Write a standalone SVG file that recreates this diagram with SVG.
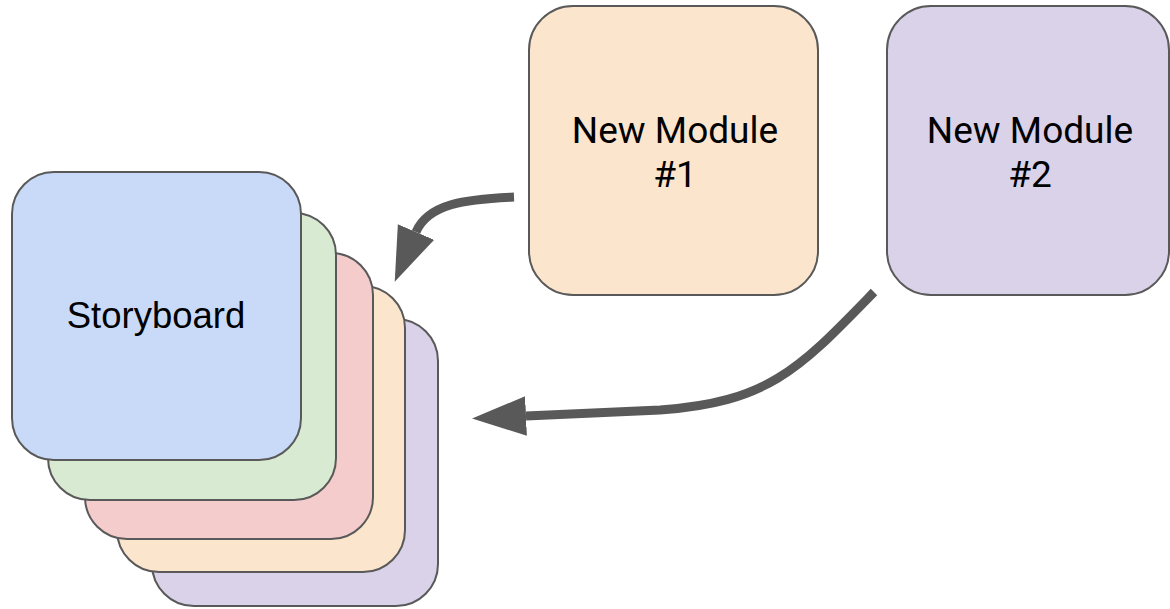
<svg xmlns="http://www.w3.org/2000/svg" width="1170" height="609" viewBox="0 0 1170 609">
<style>
.card{stroke:#595959;stroke-width:2}
.lbl{font-family:"Liberation Sans",Arial,sans-serif;font-size:36.5px;fill:#000;text-anchor:middle}
.mlbl{font-family:Roboto,"Noto Sans",sans-serif;font-size:37px;fill:#000;text-anchor:middle}
.conn{fill:none;stroke:#595959;stroke-width:9;stroke-linecap:butt}
</style>
<defs>
<marker id="ah" markerUnits="userSpaceOnUse" markerWidth="54" markerHeight="40" viewBox="0 0 52 38" refX="0" refY="19" orient="auto">
<path d="M0,0 L52,19 L0,38 z" fill="#595959"/>
</marker>
</defs>
<rect width="1170" height="609" fill="#fff"/>
<g id="storyboard-stack">
<g id="card5"><rect class="card" x="152" y="319" width="286" height="287" rx="42" fill="#d9d2e9"/></g>
<g id="card4"><rect class="card" x="117" y="286" width="288" height="286" rx="42" fill="#fce5cd"/></g>
<g id="card3"><rect class="card" x="85" y="253" width="288" height="286" rx="42" fill="#f4cccc"/></g>
<g id="card2"><rect class="card" x="48" y="213" width="288" height="287" rx="42" fill="#d9ead3"/></g>
<g id="storyboard"><rect class="card" x="12" y="172" width="289" height="288" rx="42" fill="#c9daf8"/>
<text class="lbl" x="156" y="328">Storyboard</text></g>
</g>
<g id="module1"><rect class="card" x="529" y="6" width="289" height="289" rx="44" fill="#fce5cd"/>
<text class="mlbl" x="675" y="143">New Module</text>
<text class="mlbl" x="675" y="187">#1</text></g>
<g id="module2"><rect class="card" x="887" y="6" width="282" height="289" rx="44" fill="#d9d2e9"/>
<text class="mlbl" x="1030" y="143">New Module</text>
<text class="mlbl" x="1030" y="187">#2</text></g>
<g id="connectors">
<path class="conn" d="M514,197 C465,199 428,204 416,232" marker-end="url(#ah)"/>
<path class="conn" d="M874,292 C800,368 770,402 660,410 L526,416" marker-end="url(#ah)"/>
</g>
</svg>
